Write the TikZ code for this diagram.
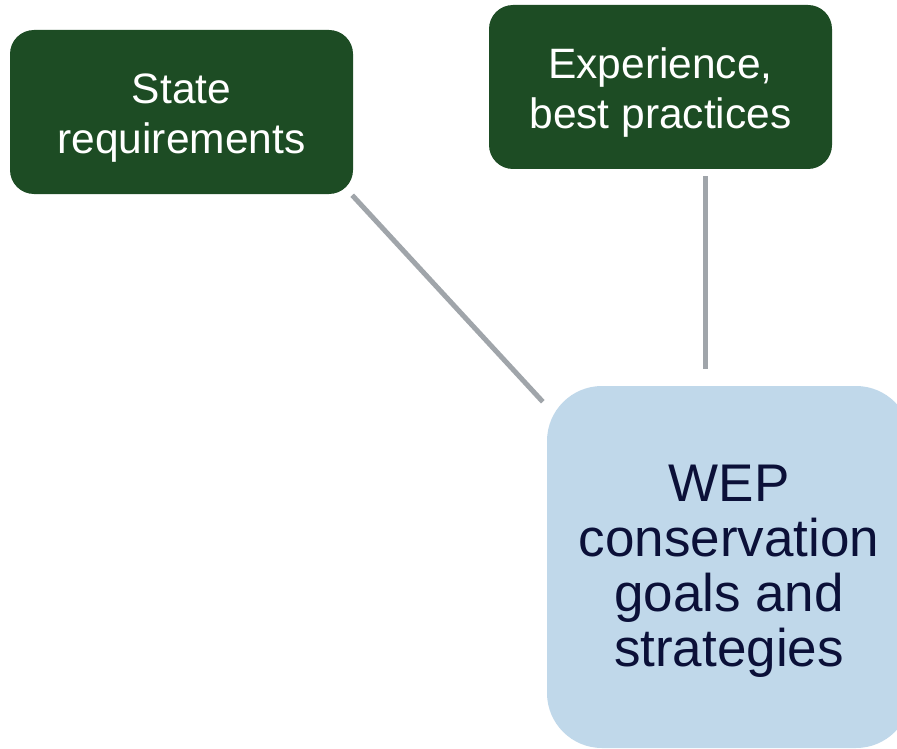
\documentclass[tikz,border=0pt]{standalone}
\usepackage{fontspec}
\setmainfont{Liberation Sans}
\definecolor{darkgreen}{HTML}{1D4C24}
\definecolor{paleblue}{HTML}{C0D8EA}
\definecolor{navytext}{HTML}{0B1038}
\definecolor{linkgray}{HTML}{A0A5AA}
% tall invisible strut on the first line sets the text a little lower in its box
\newcommand{\topstrut}[1]{\rule{0pt}{#1}}
\begin{document}
\begin{tikzpicture}[x=1pt,y=-1pt,
  inputbox/.style={draw=none, fill=darkgreen, text=white, rounded corners=24pt,
    minimum width=343pt, minimum height=164pt, inner sep=0pt, align=center,
    font=\fontsize{42.5}{50}\selectfont},
  goalbox/.style={draw=none, fill=paleblue, text=navytext, rounded corners=55pt,
    minimum width=364pt, minimum height=362pt, inner sep=0pt, align=center,
    font=\fontsize{53}{55}\selectfont},
  link/.style={draw=linkgray, line width=5pt}]
  \useasboundingbox (0,0) rectangle (897,749);
  \clip (0,0) rectangle (897,749);
  \fill[white] (0,0) rectangle (897,749);

  % source boxes
  \node[inputbox] (state) at (181.5,112) {\topstrut{41pt}State\\requirements};
  \node[inputbox] (exper) at (660.5,87) {\topstrut{41pt}Experience,\\best practices};
  % target box, partly running off the right edge
  \node[goalbox] (goals) at (729,567) {\topstrut{44pt}WEP\\conservation\\goals and\\strategies};

  % connectors (explicit pt shifts are in page orientation: negative y is down)
  \draw[link] ([shift={(-1pt,-1pt)}]state.south east) -- ([shift={(-4pt,-16pt)}]goals.north west);
  \draw[link] ([shift={(44.5pt,-7pt)}]exper.south) -- ([shift={(-24pt,17pt)}]goals.north);
\end{tikzpicture}
\end{document}
